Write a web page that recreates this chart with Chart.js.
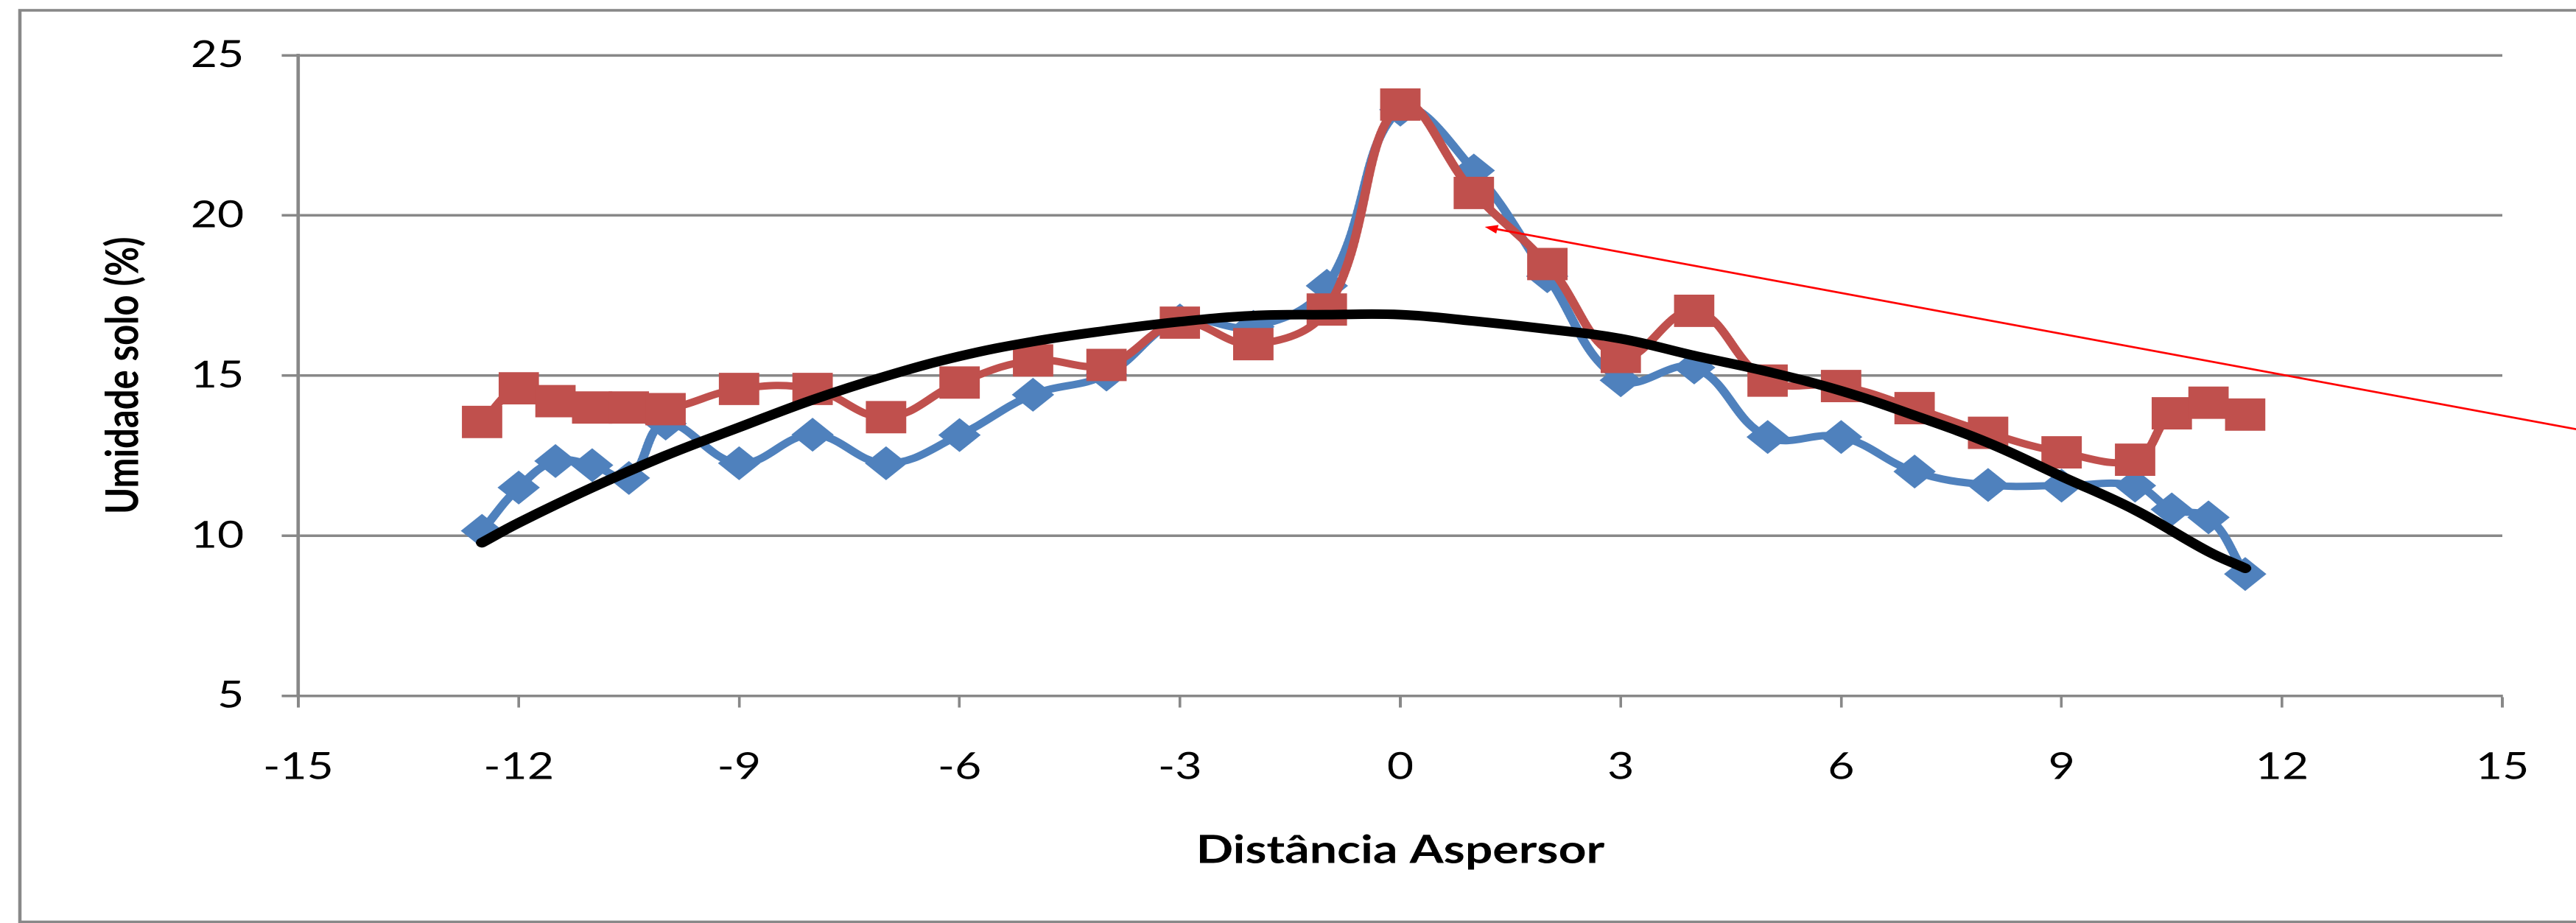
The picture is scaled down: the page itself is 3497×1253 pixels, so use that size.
<!DOCTYPE html>
<html lang="pt">
<head>
<meta charset="UTF-8">
<title>Umidade do solo x distância do aspersor</title>
<script src="https://cdn.jsdelivr.net/npm/chart.js"></script>
<style>
  html, body { margin: 0; padding: 0; background: #fff; overflow: hidden; }
</style>
</head>
<body>
<!-- drawn narrower and widened by CSS, like the original wide-stretched chart -->
<canvas id="grafico" width="2798" height="1253" style="width:3497px;height:1253px;"></canvas>
<script>
// distância do aspersor (m)
const distancias = [-12.5, -12, -11.5, -11, -10.5, -10, -9, -8, -7, -6, -5, -4, -3, -2, -1, 0, 1, 2, 3, 4, 5, 6, 7, 8, 9, 10, 10.5, 11, 11.5];
// umidade do solo (%) - série azul (losangos)
const umidadeAzul = [10.15, 11.5, 12.33, 12.2, 11.8, 13.5, 12.26, 13.15, 12.26, 13.14, 14.4, 15.03, 16.72, 16.52, 17.8, 23.3, 21.4, 18.1, 14.85, 15.25, 13.08, 13.08, 12.0, 11.58, 11.56, 11.56, 10.82, 10.57, 8.8];
// umidade do solo (%) - série vermelha (quadrados)
const umidadeVermelha = [13.55, 14.6, 14.2, 14.0, 14.0, 13.95, 14.58, 14.58, 13.7, 14.78, 15.47, 15.33, 16.65, 15.98, 17.06, 23.46, 20.7, 18.48, 15.58, 17.02, 14.84, 14.67, 13.98, 13.21, 12.6, 12.37, 13.82, 14.15, 13.78];
// curva de tendência (preta)
const tendenciaX = [-12.5, -12, -11, -10, -9, -8, -7, -6, -5, -4, -3, -2, -1, 0, 1, 2, 3, 4, 5, 6, 7, 8, 9, 10, 11, 11.5];
const tendenciaY = [9.78, 10.4, 11.5, 12.5, 13.38, 14.24, 14.98, 15.6, 16.06, 16.4, 16.68, 16.87, 16.9, 16.9, 16.7, 16.45, 16.15, 15.62, 15.12, 14.52, 13.75, 12.9, 11.85, 10.8, 9.5, 8.98];

const ticksX = [-15, -12, -9, -6, -3, 0, 3, 6, 9, 12, 15];
const ticksY = [5, 10, 15, 20, 25];
const tituloX = 'Distância Aspersor';
const tituloY = 'Umidade solo (%)';

// seta vermelha: começa fora do gráfico à direita e aponta para perto do pico
const setaInicio = [16.2, 13.24];
const setaFim = [1.15, 19.64];

const familia = 'Lato, "Open Sans", sans-serif';
const cinza = '#888888';

function pontos(xs, ys) {
    return xs.map((x, i) => ({ x: x, y: ys[i] }));
}

// fundo branco e moldura cinza da área do gráfico
const moldura = {
    id: 'moldura',
    beforeDraw(chart) {
        const { ctx, width, height } = chart;
        ctx.save();
        ctx.fillStyle = '#ffffff';
        ctx.fillRect(0, 0, width, height);
        ctx.strokeStyle = cinza;
        ctx.lineWidth = 3.6;
        ctx.strokeRect(21.6, 14, width + 20, height - 15.5);
        ctx.restore();
    }
};

const seta = {
    id: 'seta',
    afterDatasetsDraw(chart) {
        const { ctx, scales } = chart;
        const x0 = scales.x.getPixelForValue(setaInicio[0]);
        const y0 = scales.y.getPixelForValue(setaInicio[1]);
        const x1 = scales.x.getPixelForValue(setaFim[0]);
        const y1 = scales.y.getPixelForValue(setaFim[1]);
        const ang = Math.atan2(y1 - y0, x1 - x0);
        const comp = 14, meia = 6;
        ctx.save();
        ctx.strokeStyle = '#ff0000';
        ctx.fillStyle = '#ff0000';
        ctx.lineWidth = 2.6;
        ctx.beginPath();
        ctx.moveTo(x0, y0);
        ctx.lineTo(x1 - comp * 0.6 * Math.cos(ang), y1 - comp * 0.6 * Math.sin(ang));
        ctx.stroke();
        ctx.beginPath();
        ctx.moveTo(x1, y1);
        ctx.lineTo(x1 - comp * Math.cos(ang) + meia * Math.sin(ang), y1 - comp * Math.sin(ang) - meia * Math.cos(ang));
        ctx.lineTo(x1 - comp * Math.cos(ang) - meia * Math.sin(ang), y1 - comp * Math.sin(ang) + meia * Math.cos(ang));
        ctx.closePath();
        ctx.fill();
        ctx.restore();
    }
};

new Chart(document.getElementById('grafico'), {
    type: 'line',
    data: {
        datasets: [
            {
                label: 'Tendência',
                data: pontos(tendenciaX, tendenciaY),
                borderColor: '#000000',
                borderWidth: 13,
                borderCapStyle: 'round',
                borderJoinStyle: 'round',
                pointRadius: 0,
                tension: 0.4
            },
            {
                label: 'Série 2',
                data: pontos(distancias, umidadeVermelha),
                borderColor: '#C0504D',
                backgroundColor: '#C0504D',
                borderWidth: 10,
                pointStyle: 'rect',
                pointRadius: 31,
                pointBorderWidth: 0,
                tension: 0.4
            },
            {
                label: 'Série 1',
                data: pontos(distancias, umidadeAzul),
                borderColor: '#4F81BD',
                backgroundColor: '#4F81BD',
                borderWidth: 10,
                pointStyle: 'rectRot',
                pointRadius: 23,
                pointBorderWidth: 0,
                tension: 0.4
            }
        ]
    },
    options: {
        responsive: false,
        animation: false,
        devicePixelRatio: 2,
        layout: { padding: { left: 0, top: 75, right: 70, bottom: 0 } },
        plugins: {
            legend: { display: false },
            tooltip: { enabled: false }
        },
        scales: {
            x: {
                type: 'linear',
                min: -15,
                max: 15,
                afterBuildTicks: s => { s.ticks = ticksX.map(v => ({ value: v })); },
                afterFit: s => { s.height = 308.5; },
                grid: { drawOnChartArea: false, drawTicks: true, tickLength: 16, tickWidth: 3, tickColor: cinza, color: cinza },
                border: { display: true, color: cinza, width: 3.5 },
                ticks: { font: { family: familia, size: 50 }, color: '#000', padding: 51, maxRotation: 0, autoSkip: false },
                title: {
                    display: true,
                    text: tituloX,
                    color: '#000',
                    font: { family: familia, size: 53, weight: 'bold' },
                    padding: { top: 0, bottom: 67 }
                }
            },
            y: {
                min: 5,
                max: 25,
                afterBuildTicks: s => { s.ticks = ticksY.map(v => ({ value: v })); },
                afterFit: s => { s.width = 324; },
                grid: { color: cinza, lineWidth: 3.5, tickLength: 18, drawTicks: true },
                border: { display: true, color: cinza, width: 3.6 },
                ticks: { font: { family: familia, size: 50 }, color: '#000', padding: 41 },
                title: {
                    display: true,
                    text: tituloY,
                    color: '#000',
                    font: { family: familia, size: 49, weight: 'bold' },
                    padding: { top: 105, bottom: 0 }
                }
            }
        }
    },
    plugins: [moldura, seta]
});
</script>
</body>
</html>
